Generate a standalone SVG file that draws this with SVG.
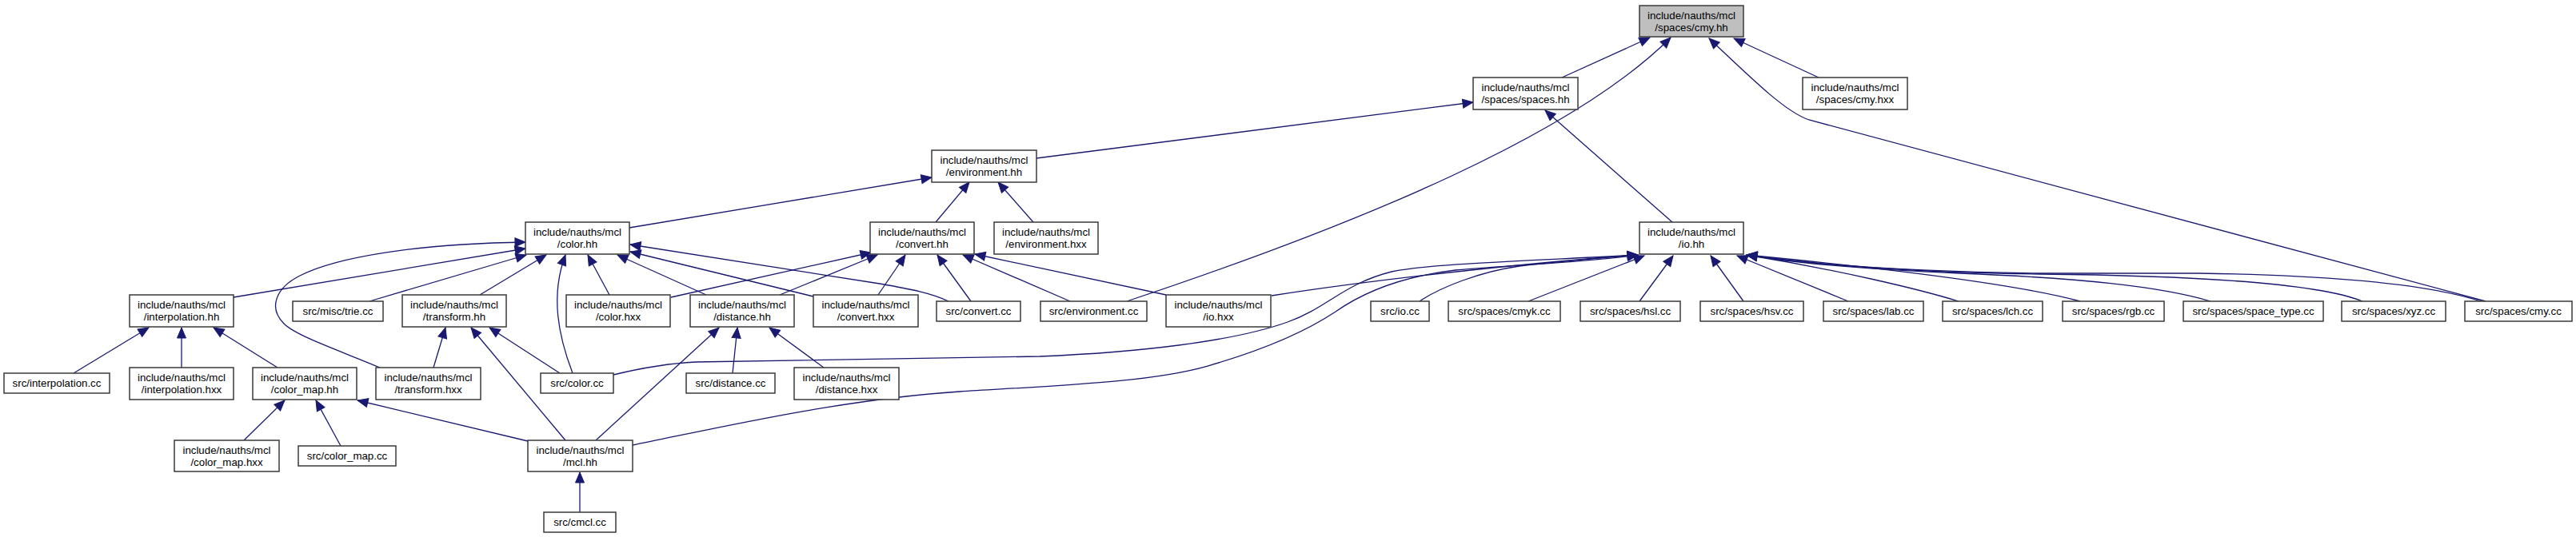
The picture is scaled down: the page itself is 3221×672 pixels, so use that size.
<svg xmlns="http://www.w3.org/2000/svg" width="3221" height="672" viewBox="0 0 3221 672">
<style>
.n rect{fill:#ffffff;stroke:#3a3a3a;stroke-width:1.5}
.n.root rect{fill:#bfbfbf}
.n text{font-family:"Liberation Sans",Arial,Helvetica,sans-serif;font-size:13.3px;text-anchor:middle;fill:#000}
#edges path{fill:none;stroke:#191970;stroke-width:1.3;marker-end:url(#ah)}
</style>
<defs>
<marker id="ah" markerUnits="userSpaceOnUse" markerWidth="16" markerHeight="14" refX="13" refY="5.5" orient="auto" overflow="visible">
<path d="M0,0 L13,5.5 L0,11 z" fill="#191970" stroke="#191970" stroke-width="1"/>
</marker>
</defs>
<rect x="0" y="0" width="3221" height="672" fill="#ffffff"/>
<g id="edges">
<path d="M1953,97 L2063,47"/>
<path d="M1409,377 C1709,277 1969,167 2089,47"/>
<path d="M3108,377 L2262,150 C2235,141 2200,108 2137,48"/>
<path d="M2274,97 L2168,48"/>
<path d="M1296,198 L1842,128"/>
<path d="M2091,278 L1932,138"/>
<path d="M787,285 L1165,222"/>
<path d="M1170,278 L1212,228"/>
<path d="M1292,278 L1248,228"/>
<path d="M292,372 L657,311"/>
<path d="M462,377 L658,319"/>
<path d="M600,369 L683,319"/>
<path d="M716,467 C698,420 688,370 707,319"/>
<path d="M762,369 L735,319"/>
<path d="M883,369 L772,319"/>
<path d="M1017,371 L788,315"/>
<path d="M1186,377 C1165,367 1140,362 1100,355 L788,306"/>
<path d="M475,460 C420,437 370,420 355,405 C335,385 345,360 375,345 C420,322 520,305 657,303"/>
<path d="M839,372 L1089,316"/>
<path d="M975,369 L1097,319"/>
<path d="M1098,369 L1132,319"/>
<path d="M1214,377 L1172,319"/>
<path d="M1338,377 L1204,319"/>
<path d="M1458,369 L1219,318"/>
<path d="M745,551 L899,410"/>
<path d="M916,467 L922,410"/>
<path d="M1030,460 L962,410"/>
<path d="M92,467 L186,410"/>
<path d="M227,460 L227,410"/>
<path d="M347,460 L267,410"/>
<path d="M542,460 L557,410"/>
<path d="M707,551 L589,410"/>
<path d="M700,467 L612,410"/>
<path d="M305,551 L356,501"/>
<path d="M426,558 L395,501"/>
<path d="M660,552 L447,501"/>
<path d="M725,641 L725,591"/>
<path d="M1590,370 C1750,345 1950,326 2048,319"/>
<path d="M1775,377 C1800,360 1850,340 1900,333 C1950,327 2000,323 2048,319"/>
<path d="M767,469 C800,461 830,455 870,453 L1300,446 C1420,441 1540,428 1610,403 C1660,385 1680,355 1740,340 C1790,330 1900,327 2048,319"/>
<path d="M791,557 C900,535 1050,500 1200,490 C1330,482 1440,478 1510,458 C1590,435 1640,410 1670,390 C1710,362 1760,345 1820,338 C1900,331 1990,328 2048,319"/>
<path d="M1911,377 L2056,320"/>
<path d="M2050,377 L2092,320"/>
<path d="M2180,377 L2139,320"/>
<path d="M2311,377 L2172,320"/>
<path d="M2449,377 C2400,362 2300,338 2184,319"/>
<path d="M2601,377 C2520,355 2350,335 2184,319"/>
<path d="M2764,377 C2700,358 2600,348 2450,342 C2350,338 2250,330 2184,319"/>
<path d="M2954,377 C2900,355 2750,345 2550,343 C2400,341 2280,333 2184,319"/>
<path d="M3102,377 C3050,360 2950,345 2750,342 L2550,342 C2400,340 2280,333 2184,319"/>
</g>
<g id="cmy_hh" class="n root"><rect x="2050" y="7" width="130" height="39"/><text x="2115" y="24">include/nauths/mcl</text><text x="2115" y="38.5">/spaces/cmy.hh</text></g>
<g id="spaces_hh" class="n"><rect x="1842" y="97" width="131" height="40"/><text x="1907.5" y="114">include/nauths/mcl</text><text x="1907.5" y="128.5">/spaces/spaces.hh</text></g>
<g id="cmy_hxx" class="n"><rect x="2254" y="97" width="131" height="40"/><text x="2319.5" y="114">include/nauths/mcl</text><text x="2319.5" y="128.5">/spaces/cmy.hxx</text></g>
<g id="environment_hh" class="n"><rect x="1165" y="188" width="131" height="40"/><text x="1230.5" y="205">include/nauths/mcl</text><text x="1230.5" y="219.5">/environment.hh</text></g>
<g id="color_hh" class="n"><rect x="657" y="278" width="130" height="40"/><text x="722" y="295">include/nauths/mcl</text><text x="722" y="309.5">/color.hh</text></g>
<g id="convert_hh" class="n"><rect x="1088" y="278" width="130" height="40"/><text x="1153" y="295">include/nauths/mcl</text><text x="1153" y="309.5">/convert.hh</text></g>
<g id="environment_hxx" class="n"><rect x="1243" y="278" width="130" height="40"/><text x="1308" y="295">include/nauths/mcl</text><text x="1308" y="309.5">/environment.hxx</text></g>
<g id="io_hh" class="n"><rect x="2050" y="278" width="130" height="40"/><text x="2115" y="295">include/nauths/mcl</text><text x="2115" y="309.5">/io.hh</text></g>
<g id="interpolation_hh" class="n"><rect x="162" y="369" width="130" height="40"/><text x="227" y="386">include/nauths/mcl</text><text x="227" y="400.5">/interpolation.hh</text></g>
<g id="trie_cc" class="n"><rect x="366" y="377" width="113" height="25"/><text x="422.5" y="393.5">src/misc/trie.cc</text></g>
<g id="transform_hh" class="n"><rect x="503" y="369" width="130" height="40"/><text x="568" y="386">include/nauths/mcl</text><text x="568" y="400.5">/transform.hh</text></g>
<g id="color_hxx" class="n"><rect x="708" y="369" width="130" height="40"/><text x="773" y="386">include/nauths/mcl</text><text x="773" y="400.5">/color.hxx</text></g>
<g id="distance_hh" class="n"><rect x="863" y="369" width="130" height="40"/><text x="928" y="386">include/nauths/mcl</text><text x="928" y="400.5">/distance.hh</text></g>
<g id="convert_hxx" class="n"><rect x="1017" y="369" width="131" height="40"/><text x="1082.5" y="386">include/nauths/mcl</text><text x="1082.5" y="400.5">/convert.hxx</text></g>
<g id="convert_cc" class="n"><rect x="1171" y="377" width="105" height="25"/><text x="1223.5" y="393.5">src/convert.cc</text></g>
<g id="environment_cc" class="n"><rect x="1301" y="377" width="133" height="25"/><text x="1367.5" y="393.5">src/environment.cc</text></g>
<g id="io_hxx" class="n"><rect x="1458" y="369" width="131" height="40"/><text x="1523.5" y="386">include/nauths/mcl</text><text x="1523.5" y="400.5">/io.hxx</text></g>
<g id="io_cc" class="n"><rect x="1714" y="377" width="73" height="25"/><text x="1750.5" y="393.5">src/io.cc</text></g>
<g id="cmyk_cc" class="n"><rect x="1811" y="377" width="140" height="25"/><text x="1881" y="393.5">src/spaces/cmyk.cc</text></g>
<g id="hsl_cc" class="n"><rect x="1976" y="377" width="125" height="25"/><text x="2038.5" y="393.5">src/spaces/hsl.cc</text></g>
<g id="hsv_cc" class="n"><rect x="2126" y="377" width="129" height="25"/><text x="2190.5" y="393.5">src/spaces/hsv.cc</text></g>
<g id="lab_cc" class="n"><rect x="2280" y="377" width="125" height="25"/><text x="2342.5" y="393.5">src/spaces/lab.cc</text></g>
<g id="lch_cc" class="n"><rect x="2429" y="377" width="125" height="25"/><text x="2491.5" y="393.5">src/spaces/lch.cc</text></g>
<g id="rgb_cc" class="n"><rect x="2579" y="377" width="127" height="25"/><text x="2642.5" y="393.5">src/spaces/rgb.cc</text></g>
<g id="space_type_cc" class="n"><rect x="2730" y="377" width="175" height="25"/><text x="2817.5" y="393.5">src/spaces/space_type.cc</text></g>
<g id="xyz_cc" class="n"><rect x="2928" y="377" width="130" height="25"/><text x="2993" y="393.5">src/spaces/xyz.cc</text></g>
<g id="cmy_cc" class="n"><rect x="3082" y="377" width="134" height="25"/><text x="3149" y="393.5">src/spaces/cmy.cc</text></g>
<g id="interpolation_cc" class="n"><rect x="5" y="467" width="132" height="25"/><text x="71" y="483.5">src/interpolation.cc</text></g>
<g id="interpolation_hxx" class="n"><rect x="162" y="460" width="130" height="40"/><text x="227" y="477">include/nauths/mcl</text><text x="227" y="491.5">/interpolation.hxx</text></g>
<g id="color_map_hh" class="n"><rect x="316" y="460" width="130" height="40"/><text x="381" y="477">include/nauths/mcl</text><text x="381" y="491.5">/color_map.hh</text></g>
<g id="transform_hxx" class="n"><rect x="470" y="460" width="131" height="40"/><text x="535.5" y="477">include/nauths/mcl</text><text x="535.5" y="491.5">/transform.hxx</text></g>
<g id="color_cc" class="n"><rect x="676" y="467" width="91" height="25"/><text x="721.5" y="483.5">src/color.cc</text></g>
<g id="distance_cc" class="n"><rect x="858" y="467" width="111" height="25"/><text x="913.5" y="483.5">src/distance.cc</text></g>
<g id="distance_hxx" class="n"><rect x="993" y="460" width="131" height="40"/><text x="1058.5" y="477">include/nauths/mcl</text><text x="1058.5" y="491.5">/distance.hxx</text></g>
<g id="color_map_hxx" class="n"><rect x="218" y="551" width="131" height="39"/><text x="283.5" y="568">include/nauths/mcl</text><text x="283.5" y="582.5">/color_map.hxx</text></g>
<g id="color_map_cc" class="n"><rect x="373" y="558" width="122" height="25"/><text x="434" y="574.5">src/color_map.cc</text></g>
<g id="mcl_hh" class="n"><rect x="660" y="551" width="131" height="39"/><text x="725.5" y="568">include/nauths/mcl</text><text x="725.5" y="582.5">/mcl.hh</text></g>
<g id="cmcl_cc" class="n"><rect x="680" y="641" width="90" height="25"/><text x="725" y="657.5">src/cmcl.cc</text></g>
</svg>
